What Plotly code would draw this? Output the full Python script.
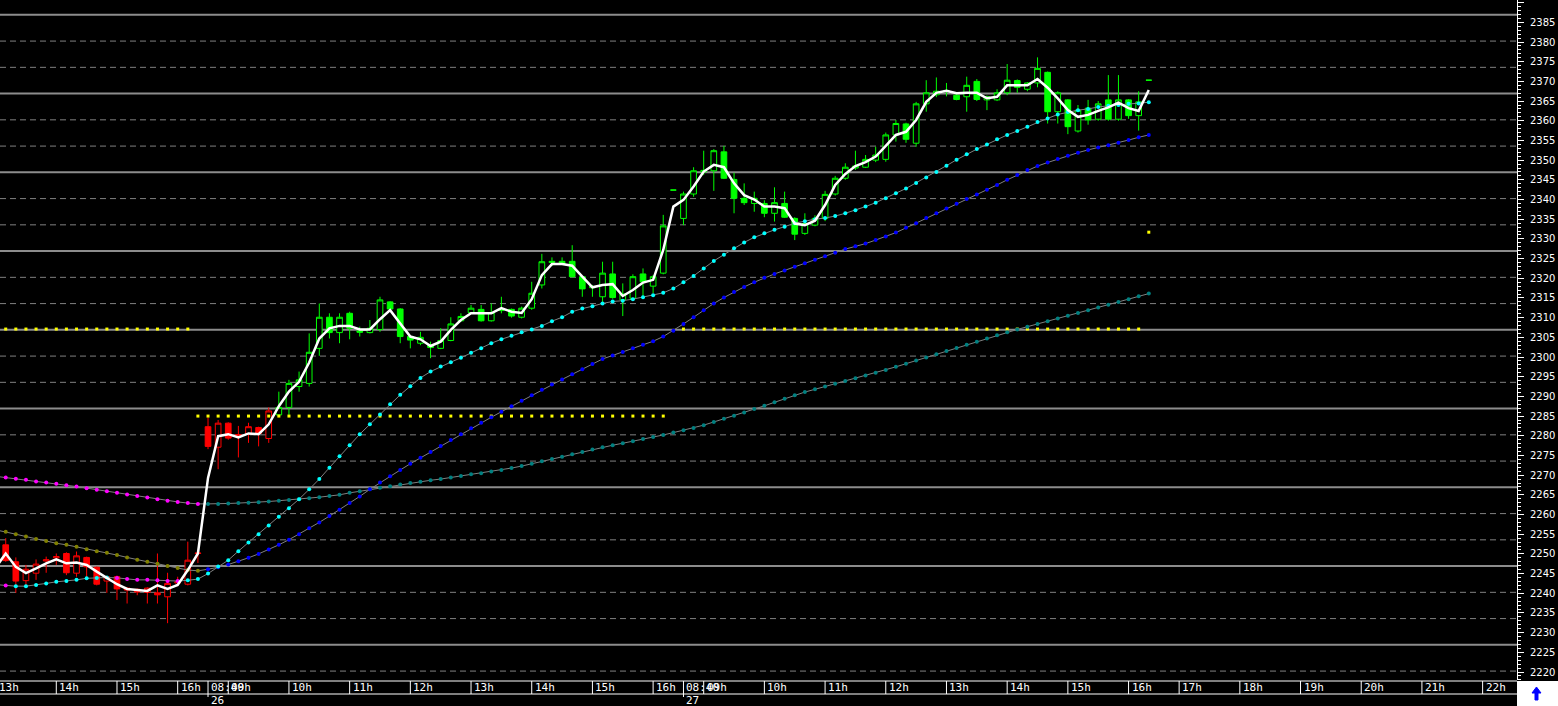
import plotly.graph_objects as go

# ---------------- data ----------------
bar_index = list(range(1, 115))
opens = [2252.3, 2248.0, 2243.2, 2245.1, 2248.2, 2249.0, 2250.1, 2245.1, 2249.1, 2246.6,
         2243.1, 2244.2, 2241.3, 2241.0, 2240.2, 2240.1, 2239.1, 2242.6, 2242.3, 2250.1,
         2282.3, 2277.1, 2283.2, 2280.3, 2280.4, 2282.1, 2279.3, 2285.3, 2287.2, 2292.5,
         2293.3, 2302.2, 2310.1, 2306.2, 2311.1, 2306.6, 2306.2, 2307.0, 2314.0, 2312.2,
         2305.2, 2303.5, 2303.0, 2302.2, 2304.2, 2309.2, 2311.3, 2312.1, 2309.2, 2311.8,
         2312.1, 2310.1, 2312.4, 2318.3, 2324.0, 2324.3, 2324.3, 2320.4, 2317.6, 2315.3,
         2321.1, 2314.5, 2314.9, 2321.1, 2318.0, 2321.3, 2342.4, 2335.2, 2341.4, 2347.0,
         2347.3, 2352.1, 2345.1, 2340.3, 2339.0, 2339.0, 2336.5, 2339.0, 2335.2, 2331.4,
         2333.5, 2335.2, 2341.4, 2345.4, 2348.0, 2348.2, 2350.0, 2350.2, 2356.4, 2359.2,
         2354.3, 2364.3, 2366.6, 2367.4, 2366.5, 2366.1, 2370.0, 2365.3, 2365.3, 2367.1,
         2370.2, 2368.0, 2369.6, 2372.3, 2362.3, 2365.3, 2357.4, 2363.2, 2360.4, 2365.3,
         2360.4, 2365.3, 2361.3, 2370.3]
highs = [2254.0, 2249.1, 2247.2, 2248.6, 2249.3, 2250.1, 2250.4, 2250.6, 2249.3, 2246.8,
         2244.4, 2244.5, 2241.5, 2241.2, 2241.5, 2250.1, 2245.2, 2244.2, 2253.1, 2250.3,
         2284.6, 2284.0, 2283.4, 2282.5, 2283.3, 2282.3, 2287.2, 2291.2, 2294.2, 2296.3,
         2306.0, 2313.6, 2311.1, 2311.1, 2311.5, 2307.7, 2309.4, 2315.3, 2314.2, 2312.4,
         2305.5, 2306.4, 2303.9, 2307.3, 2310.1, 2311.1, 2313.2, 2313.2, 2313.6, 2315.3,
         2312.3, 2312.8, 2319.1, 2326.2, 2325.3, 2325.3, 2328.4, 2320.6, 2318.3, 2324.2,
         2324.2, 2318.7, 2321.0, 2322.5, 2320.8, 2336.1, 2342.4, 2342.0, 2348.2, 2352.4,
         2352.8, 2353.6, 2346.8, 2344.1, 2342.0, 2339.8, 2343.1, 2342.0, 2335.5, 2336.5,
         2336.0, 2342.2, 2346.0, 2349.2, 2352.4, 2351.3, 2353.4, 2357.0, 2360.2, 2359.5,
         2364.8, 2370.3, 2371.0, 2369.6, 2367.0, 2371.2, 2370.6, 2366.4, 2368.0, 2374.4,
         2370.5, 2369.8, 2376.1, 2372.5, 2367.5, 2365.5, 2364.0, 2365.3, 2365.0, 2371.6,
         2371.6, 2365.5, 2367.5, 2370.3]
lows = [2248.0, 2240.1, 2242.1, 2243.4, 2245.2, 2247.2, 2244.6, 2244.2, 2243.5, 2242.0,
        2240.1, 2238.3, 2237.4, 2239.5, 2237.4, 2237.4, 2232.4, 2241.8, 2242.0, 2247.7,
        2276.6, 2271.5, 2279.0, 2274.5, 2278.2, 2277.3, 2278.2, 2285.0, 2285.3, 2291.2,
        2292.5, 2300.3, 2304.7, 2303.5, 2304.5, 2305.2, 2306.0, 2306.4, 2311.8, 2303.5,
        2302.2, 2303.0, 2299.7, 2302.0, 2304.0, 2309.0, 2311.1, 2309.0, 2309.0, 2311.1,
        2310.0, 2309.8, 2312.0, 2317.4, 2323.1, 2323.4, 2320.2, 2315.3, 2315.3, 2314.0,
        2314.8, 2310.4, 2314.5, 2314.9, 2316.2, 2321.0, 2342.4, 2333.5, 2340.7, 2346.2,
        2342.2, 2345.2, 2336.5, 2338.6, 2336.9, 2335.5, 2334.4, 2335.3, 2329.7, 2331.0,
        2333.2, 2334.5, 2341.0, 2345.0, 2347.5, 2348.0, 2349.5, 2349.6, 2354.7, 2354.4,
        2353.4, 2362.3, 2366.0, 2366.2, 2365.2, 2362.3, 2365.0, 2362.7, 2365.0, 2366.5,
        2367.1, 2367.5, 2368.5, 2359.3, 2359.3, 2356.6, 2357.0, 2359.0, 2360.0, 2360.0,
        2360.0, 2360.5, 2357.5, 2370.3]
closes = [2248.3, 2243.1, 2246.1, 2247.4, 2248.5, 2249.3, 2245.2, 2249.5, 2246.7, 2242.3,
          2244.2, 2241.1, 2240.8, 2240.3, 2241.3, 2239.6, 2242.5, 2242.9, 2248.4, 2250.2,
          2277.3, 2283.2, 2279.4, 2279.8, 2282.3, 2280.6, 2286.3, 2287.2, 2293.3, 2294.2,
          2301.2, 2310.1, 2306.2, 2310.1, 2307.3, 2306.3, 2307.3, 2314.5, 2312.2, 2305.2,
          2304.3, 2305.0, 2302.4, 2304.2, 2308.4, 2310.3, 2312.4, 2309.2, 2311.3, 2312.2,
          2310.4, 2312.4, 2316.2, 2324.2, 2324.3, 2323.6, 2320.4, 2317.3, 2317.9, 2321.3,
          2315.1, 2316.0, 2320.4, 2319.1, 2320.4, 2333.3, 2342.4, 2341.4, 2347.3, 2347.4,
          2352.4, 2345.4, 2340.3, 2339.2, 2340.3, 2336.5, 2339.2, 2335.5, 2331.2, 2333.9,
          2335.2, 2341.3, 2345.4, 2348.2, 2348.5, 2350.2, 2351.3, 2356.4, 2359.3, 2355.3,
          2364.3, 2367.1, 2367.5, 2367.7, 2365.4, 2369.0, 2365.4, 2366.1, 2367.1, 2370.3,
          2368.5, 2369.6, 2373.3, 2362.3, 2367.1, 2358.5, 2362.7, 2360.2, 2364.3, 2360.4,
          2365.3, 2361.3, 2364.8, 2370.3]

ma_index = list(range(0, 115))
ma_fast = [2246.5, 2250.1, 2246.7, 2245.1, 2246.3, 2247.6, 2248.6, 2247.6, 2247.8, 2247.2,
           2245.5, 2243.8, 2242.3, 2241.1, 2240.8, 2240.6, 2242.0, 2241.1, 2242.1, 2245.9,
           2250.1, 2269.3, 2279.9, 2280.4, 2279.6, 2280.6, 2280.4, 2282.9, 2287.5, 2291.2,
           2293.7, 2298.6, 2304.7, 2307.3, 2307.9, 2307.9, 2307.0, 2307.0, 2309.6, 2311.9,
           2308.5, 2305.2, 2304.5, 2302.8, 2303.9, 2306.9, 2309.4, 2311.1, 2311.1, 2311.1,
           2312.4, 2311.5, 2311.2, 2314.7, 2320.8, 2323.6, 2323.6, 2323.2, 2320.4, 2317.7,
           2318.3, 2318.5, 2315.5, 2317.0, 2318.9, 2319.6, 2327.2, 2338.2, 2339.9, 2343.3,
           2347.1, 2348.8, 2348.2, 2344.1, 2341.1, 2340.0, 2338.2, 2338.2, 2337.8, 2333.9,
           2333.5, 2334.6, 2338.6, 2343.7, 2346.5, 2348.5, 2349.5, 2350.9, 2353.6, 2356.4,
           2357.2, 2360.2, 2364.8, 2367.1, 2367.6, 2367.0, 2367.1, 2367.1, 2365.7, 2366.1,
           2369.0, 2369.0, 2369.0, 2370.6, 2368.4, 2365.7, 2362.7, 2361.0, 2361.5, 2362.5,
           2363.4, 2364.6, 2363.2, 2362.5, 2367.8]
ma_mid = [2242.2, 2242.0, 2241.8, 2241.8, 2242.1, 2242.5, 2242.9, 2243.1, 2243.4, 2243.8,
          2243.9, 2244.0, 2243.9, 2243.6, 2243.4, 2243.4, 2243.3, 2243.1, 2243.1, 2243.3,
          2243.6, 2245.0, 2246.8, 2248.4, 2250.7, 2252.9, 2255.0, 2257.2, 2259.4, 2261.6,
          2263.9, 2266.4, 2269.0, 2271.9, 2274.8, 2277.6, 2280.4, 2282.9, 2285.4, 2288.0,
          2290.4, 2292.6, 2294.7, 2296.3, 2297.6, 2298.7, 2299.8, 2301.1, 2302.2, 2303.5,
          2304.5, 2305.4, 2306.3, 2307.0, 2307.9, 2309.1, 2310.1, 2311.5, 2312.3, 2312.9,
          2313.6, 2314.1, 2314.3, 2314.7, 2315.2, 2315.7, 2316.3, 2317.4, 2319.0, 2320.6,
          2322.5, 2324.4, 2326.0, 2327.6, 2329.1, 2330.4, 2331.4, 2332.3, 2333.1, 2334.0,
          2334.5, 2335.0, 2335.3, 2335.8, 2336.5, 2337.3, 2338.2, 2339.2, 2340.3, 2341.6,
          2342.8, 2344.2, 2345.6, 2347.0, 2348.6, 2350.1, 2351.5, 2352.8, 2354.0, 2355.3,
          2356.4, 2357.4, 2358.5, 2359.7, 2360.6, 2361.6, 2362.2, 2362.7, 2363.0, 2363.5,
          2363.8, 2364.0, 2364.3, 2364.4, 2364.7]
ma_slow = [2256.1, 2255.6, 2255.0, 2254.4, 2253.8, 2253.3, 2252.7, 2252.3, 2251.8, 2251.2,
           2250.7, 2250.3, 2249.7, 2249.1, 2248.5, 2248.0, 2247.5, 2246.9, 2246.4, 2245.9,
           2245.7, 2246.1, 2246.6, 2247.3, 2248.1, 2249.0, 2250.0, 2251.1, 2252.3, 2253.6,
           2255.0, 2256.5, 2258.0, 2259.6, 2261.2, 2262.9, 2264.6, 2266.4, 2268.1, 2269.7,
           2271.3, 2272.9, 2274.4, 2275.9, 2277.4, 2278.9, 2280.4, 2281.9, 2283.3, 2284.7,
           2286.1, 2287.5, 2288.9, 2290.3, 2291.7, 2293.0, 2294.3, 2295.6, 2296.9, 2298.2,
           2299.5, 2300.4, 2301.3, 2302.2, 2303.1, 2304.0, 2305.2, 2306.7, 2308.4, 2310.1,
           2311.9, 2313.6, 2315.1, 2316.5, 2317.8, 2319.0, 2320.1, 2321.1, 2322.0, 2322.9,
           2323.8, 2324.7, 2325.6, 2326.5, 2327.4, 2328.1, 2328.8, 2329.7, 2330.6, 2331.6,
           2332.8, 2334.0, 2335.3, 2336.5, 2337.7, 2338.9, 2340.1, 2341.3, 2342.5, 2343.7,
           2345.0, 2346.2, 2347.5, 2348.5, 2349.4, 2350.3, 2351.1, 2351.9, 2352.6, 2353.2,
           2353.8, 2354.4, 2355.1, 2355.8, 2356.4]
ma_long = [2269.7, 2269.4, 2269.1, 2268.8, 2268.4, 2268.1, 2267.8, 2267.4, 2267.1, 2266.7,
           2266.3, 2265.9, 2265.5, 2265.1, 2264.7, 2264.3, 2263.9, 2263.5, 2263.2, 2262.9,
           2262.7, 2262.7, 2262.7, 2262.8, 2262.9, 2263.0, 2263.1, 2263.3, 2263.5, 2263.7,
           2263.9, 2264.1, 2264.4, 2264.7, 2265.0, 2265.5, 2265.9, 2266.4, 2266.8, 2267.2,
           2267.6, 2268.0, 2268.3, 2268.7, 2269.0, 2269.4, 2269.8, 2270.2, 2270.5, 2270.9,
           2271.3, 2271.8, 2272.3, 2272.9, 2273.5, 2274.1, 2274.7, 2275.3, 2275.9, 2276.5,
           2277.1, 2277.6, 2278.1, 2278.6, 2279.2, 2279.7, 2280.2, 2280.8, 2281.4, 2282.0,
           2282.7, 2283.5, 2284.3, 2285.1, 2285.9, 2286.8, 2287.6, 2288.5, 2289.4, 2290.3,
           2291.1, 2291.8, 2292.5, 2293.2, 2293.9, 2294.6, 2295.3, 2296.0, 2296.7, 2297.5,
           2298.3, 2299.1, 2299.9, 2300.7, 2301.5, 2302.3, 2303.1, 2303.9, 2304.7, 2305.5,
           2306.3, 2307.0, 2307.7, 2308.4, 2309.1, 2309.8, 2310.5, 2311.2, 2311.9, 2312.6,
           2313.3, 2314.0, 2314.7, 2315.4, 2316.1]

# daily reference levels (first bar, last bar, price) and the current-bar level
level_segments = [(1, 19, 2307.1), (20, 66, 2285.0), (68, 113, 2307.1)]
last_level = (114, 2331.7)

# time axis: bar index of each label
hour_ticks = [(0, "13h"), (6, "14h"), (12, "15h"), (18, "16h"), (21, "08:40"), (23, "09h"),
              (29, "10h"), (35, "11h"), (41, "12h"), (47, "13h"), (53, "14h"), (59, "15h"),
              (65, "16h"), (68, "08:40"), (70, "09h"), (76, "10h"), (82, "11h"), (88, "12h"),
              (94, "13h"), (100, "14h"), (106, "15h"), (112, "16h"), (117, "17h"), (123, "18h"),
              (129, "19h"), (135, "20h"), (141, "21h"), (147, "22h")]
day_marks = [(21, "26"), (68, "27")]
price_ticks = list(range(2220, 2391, 5))

# ---------------- styles ----------------
W, H = 1558, 706
ML, MR, MT, MB = 0, 41, 0, 26
PW, PH = W - ML - MR, H - MT - MB
X_RANGE = [0.435, 150.4]
Y_RANGE = [2217.97, 2390.67]
RED_LAST_BAR = 27          # bars up to this one are drawn red
TURN_BAR = 21              # slow/long averages change colour here
MID_DOWN_BARS = {0, 1, 12, 13, 14, 15, 16, 17, 18}
GRID_BASE, GRID_STEP, GRID_SUB = 2226.9, 20.0, 3
RED, GREEN = "#ff0000", "#00ff00"


def py(px):  # pixel row -> paper y
    return (PH - (px - MT)) / PH


def pxx(px):  # pixel column -> paper x
    return (px - ML) / PW


fig = go.Figure()

# reference level dots
lv_x, lv_y = [], []
for a, b, v in level_segments:
    for i in range(a, b + 1):
        lv_x.append(i)
        lv_y.append(v)
lv_x.append(last_level[0])
lv_y.append(last_level[1])
fig.add_trace(go.Scatter(x=lv_x, y=lv_y, mode="markers",
                         marker=dict(symbol="square", size=3, color="#ffff00", line=dict(width=0)),
                         hoverinfo="skip"))

# candles
n_red = RED_LAST_BAR
for sl, col in ((slice(0, n_red), RED), (slice(n_red, None), GREEN)):
    fig.add_trace(go.Candlestick(
        x=bar_index[sl], open=opens[sl], high=highs[sl], low=lows[sl], close=closes[sl],
        increasing=dict(line=dict(color=col, width=1), fillcolor="#000000"),
        decreasing=dict(line=dict(color=col, width=1), fillcolor=col),
        whiskerwidth=0, hoverinfo="skip"))

# dotted moving averages
long_cols = ["#ff00ff" if i < TURN_BAR else "#008080" for i in ma_index]
slow_cols = ["#808000" if i < TURN_BAR else "#0000ff" for i in ma_index]
mid_cols = ["#ff00ff" if i in MID_DOWN_BARS else "#00ffff" for i in ma_index]
for vals, cols in ((ma_long, long_cols), (ma_slow, slow_cols), (ma_mid, mid_cols)):
    fig.add_trace(go.Scatter(x=ma_index, y=vals, mode="lines+markers",
                             line=dict(color="#808080", width=1),
                             marker=dict(size=4, color=cols, symbol="circle", line=dict(width=0)),
                             hoverinfo="skip"))

# fast average
fig.add_trace(go.Scatter(x=ma_index, y=ma_fast, mode="lines",
                         line=dict(color="#ffffff", width=2.5), hoverinfo="skip"))

shapes = []
# horizontal grid
v = GRID_BASE - GRID_STEP
while v < Y_RANGE[1] + GRID_STEP:
    for s in range(GRID_SUB):
        gv = v + s * GRID_STEP / GRID_SUB
        if Y_RANGE[0] <= gv <= Y_RANGE[1]:
            if s == 0:
                shapes.append(dict(type="line", xref="paper", yref="y", x0=0, x1=1, y0=gv, y1=gv,
                                   line=dict(color="#8c8c8c", width=2), layer="below"))
            else:
                shapes.append(dict(type="line", xref="paper", yref="y", x0=0, x1=1, y0=gv, y1=gv,
                                   line=dict(color="#808080", width=1, dash="6px,4px"), layer="below"))
    v += GRID_STEP

# time band
band_top, band_bot = 681, 694
for yy in (band_top, band_bot):
    shapes.append(dict(type="line", xref="paper", yref="paper", x0=0, x1=1, y0=py(yy), y1=py(yy),
                       line=dict(color="#ffffff", width=1)))
annotations = []
for idx, lab in hour_ticks:
    xa = max(idx, X_RANGE[0])
    shift = 1 - (xa - idx) * PW / (X_RANGE[1] - X_RANGE[0])
    if idx >= X_RANGE[0]:
        shapes.append(dict(type="line", xref="x", yref="paper", x0=idx, x1=idx,
                           y0=py(band_top), y1=py(band_bot), line=dict(color="#ffffff", width=1)))
    annotations.append(dict(x=xa, y=py(687.5), xref="x", yref="paper", text=lab, showarrow=False,
                            xanchor="left", yanchor="middle", xshift=shift + 1, borderpad=0,
                            font=dict(family="DejaVu Sans Mono", size=11, color="#ffffff")))
for idx, lab in day_marks:
    shapes.append(dict(type="line", xref="x", yref="paper", x0=idx, x1=idx,
                       y0=py(band_bot), y1=py(697), line=dict(color="#ffffff", width=1)))
    annotations.append(dict(x=idx, y=py(701), xref="x", yref="paper", text=lab, showarrow=False,
                            xanchor="left", yanchor="middle", xshift=1,
                            font=dict(family="DejaVu Sans Mono", size=11, color="#ffffff")))

# corner box and arrow
shapes.append(dict(type="rect", xref="paper", yref="paper", x0=1, x1=pxx(W), y0=py(H), y1=py(band_top),
                   fillcolor="#ffffff", line=dict(width=0)))
arrow = [(1532, 693), (1536.5, 687), (1541, 693), (1538, 693), (1538, 700), (1535, 700), (1535, 693)]
path = "M " + " L ".join(f"{pxx(a):.5f},{py(b):.5f}" for a, b in arrow) + " Z"
shapes.append(dict(type="path", xref="paper", yref="paper", path=path,
                   fillcolor="#0000ff", line=dict(color="#0000ff", width=1)))

fig.update_layout(
    width=W, height=H, margin=dict(l=ML, r=MR, t=MT, b=MB, pad=0),
    paper_bgcolor="#000000", plot_bgcolor="#000000", showlegend=False,
    boxgap=0.2, shapes=shapes, annotations=annotations,
    xaxis=dict(range=X_RANGE, showgrid=False, zeroline=False, showticklabels=False,
               ticks="", showline=False, rangeslider=dict(visible=False), fixedrange=True),
    yaxis=dict(range=Y_RANGE, side="right", showgrid=False, zeroline=False,
               showline=True, linecolor="#ffffff", linewidth=1,
               ticks="outside", ticklen=6, tickwidth=1, tickcolor="#ffffff",
               tickmode="array", tickvals=price_ticks,
               ticktext=[str(t) if t < 2390 else "" for t in price_ticks],
               tickfont=dict(family="DejaVu Sans", size=10, color="#ffffff"),
               ticklabelstandoff=4,
               minor=dict(tickmode="linear", tick0=2220, dtick=1, ticks="outside", ticklen=3,
                          tickwidth=1, tickcolor="#ffffff", showgrid=False),
               fixedrange=True),
)

fig.write_html("out.html", config={"displayModeBar": False},
               post_script="document.documentElement.style.margin='0';"
                           "document.body.style.margin='0';"
                           "document.body.style.overflow='hidden';")
